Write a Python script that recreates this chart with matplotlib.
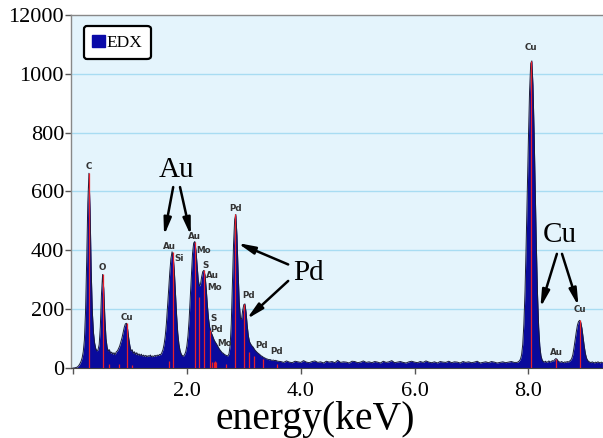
import numpy as np
import matplotlib
matplotlib.use("Agg")
import matplotlib.pyplot as plt
from matplotlib.patches import Patch

# ---------------- data ----------------
# low-energy segment: 0.00 - 3.60 keV, step 0.02
seg_a_start, seg_a_stop = 0.00, 3.60
seg_a_counts = [
    0, 0, 1, 2, 4, 8, 14, 22, 34, 55,
    95, 190, 360, 560, 662, 540, 330, 190, 120, 85,
    66, 58, 62, 80, 140, 250, 318, 270, 170, 100,
    70, 58, 62, 50, 54, 47, 52, 45, 55, 58,
    66, 75, 88, 102, 120, 138, 150, 152, 132, 100,
    75, 58, 62, 50, 55, 46, 52, 44, 48, 42,
    47, 40, 44, 39, 43, 38, 42, 40, 44, 38,
    41, 39, 43, 40, 44, 42, 46, 45, 52, 62,
    80, 108, 150, 205, 265, 325, 372, 395, 380, 330,
    255, 180, 120, 82, 60, 48, 42, 40, 45, 55,
    75, 110, 165, 240, 320, 390, 425, 430, 400, 350,
    300, 278, 285, 310, 328, 332, 315, 270, 215, 170,
    140, 125, 115, 105, 95, 88, 82, 75, 68, 62,
    57, 52, 50, 46, 44, 42, 41, 48, 75, 150,
    280, 420, 505, 522, 450, 330, 225, 170, 165, 195,
    215, 218, 190, 145, 110, 90, 82, 76, 72, 66,
    60, 56, 52, 49, 46, 42, 40, 37, 35, 33,
    31, 30, 28, 29, 27, 26, 27, 25, 26, 24,
    23,
]
# flat background: 3.65 - 7.75 keV, step 0.05
seg_b_start, seg_b_stop = 3.65, 7.75
seg_b_counts = [
    22, 19, 24, 20, 18, 23, 21, 19, 25, 20,
    18, 22, 24, 19, 21, 17, 23, 20, 22, 18,
    26, 19, 21, 20, 17, 23, 22, 18, 20, 24,
    19, 21, 18, 22, 20, 17, 23, 19, 21, 25,
    18, 20, 22, 19, 17, 21, 23, 20, 18, 22,
    19, 24, 20, 18, 21, 17, 22, 20, 19, 23,
    18, 21, 20, 17, 22, 19, 21, 18, 20, 23,
    17, 19, 21, 18, 22, 20, 17, 19, 21, 18,
    20, 22, 19,
]
# Cu K segment: 7.80 - 9.30 keV, step 0.02
seg_c_start, seg_c_stop = 7.80, 9.30
seg_c_counts = [
    19, 21, 24, 30, 45, 80, 150, 260, 420, 600,
    780, 940, 1035, 1044, 960, 800, 600, 410, 250, 140,
    75, 42, 28, 22, 20,
    23, 19, 21, 24, 20, 22, 25, 23, 28, 32,
    30, 24, 21, 19, 22, 20, 18, 21, 19, 22,
    20, 23, 26, 32, 45,
    68, 95, 122, 145, 158, 162, 155, 135, 105, 75,
    50, 34, 26, 22, 20, 18, 21, 19, 17, 20,
    18, 21, 19, 17, 20,
    18,
]

# element marker lines (energy keV, height counts)
marker_energy = [0.28, 0.525, 0.64, 0.81, 0.94, 1.04, 1.68, 1.75, 2.14, 2.22,
                 2.31, 2.41, 2.44, 2.47, 2.50, 2.52, 2.68, 2.85, 3.00, 3.09,
                 3.18, 3.33, 3.58, 8.05, 8.49, 8.91]
marker_height = [662, 318, 12, 15, 152, 10, 25, 395, 430, 243,
                 332, 130, 22, 20, 24, 20, 15, 522, 218, 56,
                 40, 30, 14, 1044, 30, 162]

# small peak labels (text, energy, counts)
peak_labels = ["C", "O", "Cu", "Au", "Si", "Au", "Mo", "S", "Au", "Mo",
               "S", "Pd", "Mo", "Pd", "Pd", "Pd", "Pd", "Cu", "Au", "Cu"]
peak_label_x = [0.28, 0.51, 0.95, 1.69, 1.87, 2.14, 2.30, 2.32, 2.45, 2.48,
                2.47, 2.52, 2.67, 2.85, 3.08, 3.31, 3.58, 8.04, 8.49, 8.90]
peak_label_y = [685, 341, 170, 412, 372, 447, 400, 348, 315, 272,
                168, 132, 84, 542, 245, 75, 55, 1091, 51, 200]

# big annotations: (text, text x, text y), arrow tails and heads
big_labels = ["Au", "Pd", "Cu"]
big_label_x = [1.82, 4.13, 8.55]
big_label_y = [672, 323, 452]
arrow_tail_x = [1.76, 1.88, 3.78, 3.78, 8.50, 8.59]
arrow_tail_y = [615, 615, 352, 296, 388, 388]
arrow_head_x = [1.60, 2.07, 2.89, 3.05, 8.21, 8.88]
arrow_head_y = [450, 450, 425, 166, 205, 210]

x_ticks = [0, 2, 4, 6, 8]
x_tick_labels = ["", "2.0", "4.0", "6.0", "8.0"]
y_ticks = [0, 200, 400, 600, 800, 1000, 1200]
y_tick_labels = ["0", "200", "400", "600", "800", "1000", "12000"]

# ---------------- build spectrum ----------------
e_a = np.linspace(seg_a_start, seg_a_stop, len(seg_a_counts))
e_b = np.linspace(seg_b_start, seg_b_stop, len(seg_b_counts))
e_c = np.linspace(seg_c_start, seg_c_stop, len(seg_c_counts))
energy = np.concatenate([e_a, e_b, e_c])
counts = np.concatenate([seg_a_counts, seg_b_counts, seg_c_counts]).astype(float)

# ---------------- figure ----------------
W, H = 603, 438
fig = plt.figure(figsize=(W / 100, H / 100), dpi=100)
fig.patch.set_facecolor("white")
ax = fig.add_axes([71 / W, 70 / H, 532 / W, 353 / H])
ax.set_facecolor("#E4F4FC")

serif = "Liberation Serif"
fill_col = "#0A0A9C"

ax.set_xlim(-0.035, 9.31)
ax.set_ylim(0, 1200)

for yv in y_ticks[1:-1]:
    ax.axhline(yv, color="#A8DCF2", lw=1.0, zorder=0.5)

ax.fill_between(energy, 0, counts, color=fill_col, lw=0, zorder=2)
ax.plot(energy, counts, color="#1a1a3a", lw=0.7, zorder=3)
ax.vlines(marker_energy, 0, marker_height, color="#E8202A", lw=0.9, zorder=4)

for t, xv, yv in zip(peak_labels, peak_label_x, peak_label_y):
    ax.text(xv, yv, t, fontsize=6.3, fontweight="bold", color="#333333",
            ha="center", va="center", family="DejaVu Sans", zorder=6)

for t, xv, yv in zip(big_labels, big_label_x, big_label_y):
    ax.text(xv, yv, t, fontsize=21, family=serif, ha="center", va="center",
            color="black", zorder=6)
for tx, ty, hx, hy in zip(arrow_tail_x, arrow_tail_y, arrow_head_x, arrow_head_y):
    ax.annotate("", xy=(hx, hy), xytext=(tx, ty),
                arrowprops=dict(arrowstyle="-|>,head_length=1.0,head_width=0.22",
                                lw=1.8, color="black", shrinkA=0, shrinkB=0),
                zorder=6)

ax.set_xticks(x_ticks)
ax.set_xticklabels(x_tick_labels, fontsize=16, family=serif)
ax.set_yticks(y_ticks)
ax.set_yticklabels(y_tick_labels, fontsize=16, family=serif)
ax.tick_params(axis="x", length=4, width=1, color="#555555", pad=6)
ax.tick_params(axis="y", length=4, width=1, color="#555555", pad=1)

for s in ["left", "top"]:
    ax.spines[s].set_color("#888888")
    ax.spines[s].set_linewidth(1.0)
ax.spines["bottom"].set_color("#444444")
ax.spines["right"].set_visible(False)

leg = ax.legend(handles=[Patch(facecolor="#0A0AA8", edgecolor="#0A0AA8")],
                labels=["EDX"], loc="upper left",
                bbox_to_anchor=(0.024, 0.969), borderaxespad=0,
                prop={"family": serif, "size": 12.5},
                handlelength=0.7, handleheight=0.7, handletextpad=0.1,
                borderpad=0.5, fancybox=True, framealpha=1)
leg.get_frame().set_edgecolor("black")
leg.get_frame().set_linewidth(1.6)
leg.get_frame().set_facecolor("white")

fig.text(315 / W, (H - 429) / H, "energy(keV)", fontsize=28.5, family=serif,
         ha="center", va="baseline")

fig.savefig("out.png", dpi=100)
